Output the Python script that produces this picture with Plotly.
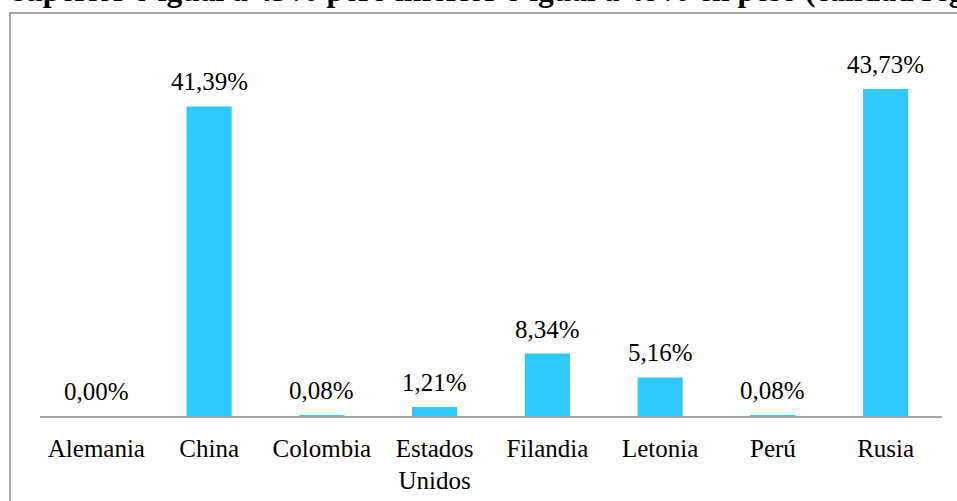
import plotly.graph_objects as go

paises = ["Alemania", "China", "Colombia", "Estados<br>Unidos",
          "Filandia", "Letonia", "Perú", "Rusia"]
porcentajes = [0.00, 41.39, 0.08, 1.21, 8.34, 5.16, 0.08, 43.73]
etiquetas = [f"{v:.2f}".replace(".", ",") + "%" for v in porcentajes]

titulo = ("superior o igual a 45% pero inferior o igual a 48% en peso "
          "(calidad regular)")

FONT = "Liberation Serif"
W, H = 957, 501
ML, MR, MT, MB = 40, 15, 42, 85

fig = go.Figure()
fig.add_trace(go.Bar(
    x = paises,
    y = porcentajes,
    marker = dict(color = "#2FC8FF", line = dict(width = 0)),
    hoverinfo = "skip",
))

# value labels sitting above each bar
for p, v, t in zip(paises, porcentajes, etiquetas):
    fig.add_annotation(
        x = p, y = v, text = t, showarrow = False,
        xref = "x", yref = "y", yanchor = "bottom",
        yshift = 9,
        font = dict(family = FONT, size = 25, color = "black"),
    )

pw = W - ML - MR
ph = H - MT - MB
# title line, cut off by the top of the picture
fig.add_annotation(
    xref = "paper", yref = "paper",
    x = (11 - ML) / pw, y = (ph - (18 - MT)) / ph,
    xanchor = "left", yanchor = "bottom", yshift = 8,
    text = "<b>" + titulo + "</b>", showarrow = False,
    font = dict(family = FONT, size = 31.5, color = "black"),
)
# outer border of the chart box
fig.add_shape(
    type = "rect", xref = "paper", yref = "paper",
    x0 = (10 - ML) / pw, x1 = 1.2,
    y0 = -0.4, y1 = (ph - (13 - MT)) / ph,
    line = dict(color = "#8A8A8A", width = 1.5),
    fillcolor = "rgba(0,0,0,0)",
)

fig.update_xaxes(
    showline = True, linecolor = "#A6A6A6", linewidth = 1.5,
    ticks = "", showgrid = False, zeroline = False, automargin = False,
    tickfont = dict(family = FONT, size = 25, color = "black"),
    ticklabelstandoff = 9,
)
fig.update_yaxes(visible = False, range = [0, 50], automargin = False)
fig.update_layout(
    width = W, height = H, autosize = False,
    margin = dict(l = ML, r = MR, t = MT, b = MB),
    bargap = 0.6,
    plot_bgcolor = "white", paper_bgcolor = "white",
    showlegend = False,
    font = dict(family = FONT, color = "black"),
)
fig.write_html(
    "out.html",
    config = {"displayModeBar": False, "responsive": False},
    post_script = "document.body.style.margin = '0';",
)
